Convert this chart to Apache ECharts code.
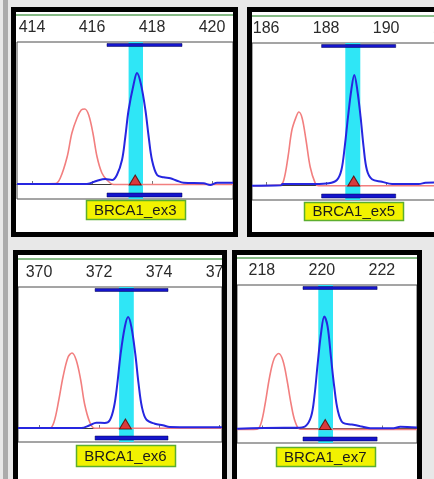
<!DOCTYPE html>
<html><head><meta charset="utf-8">
<script src="https://cdn.jsdelivr.net/npm/echarts@6/dist/echarts.min.js"></script>
<style>html,body{margin:0;padding:0;background:#e8e8e8;overflow:hidden}#c{width:434px;height:479px}</style>
</head><body><div id="c"></div>
<script>
// ---------- DATA ----------
const markerNames = ['BRCA1_ex3', 'BRCA1_ex5', 'BRCA1_ex6', 'BRCA1_ex7'];

const ticks1 = [414, 416, 418, 420];
const ticks2 = [186, 188, 190, 192];
const ticks3 = [370, 372, 374, 376];
const ticks4 = [218, 220, 222];

// called allele (triangle), highlighted band and bin range, in base pairs
const peaks = [417.44, 188.92, 372.88, 220.11];
const bands = [[417.22, 417.70], [188.64, 189.14], [372.67, 373.16], [219.88, 220.37]];
const bins  = [[416.50, 419.00], [187.85, 190.32], [371.87, 374.30], [219.37, 221.84]];

// traces: [size (bp), signal]
const blue1 = [[413.5,0],[415.83,0],[416.17,3.3],[416.44,5],[416.67,4],[416.83,9],[417.0,24],[417.11,47],[417.22,74],[417.39,100],[417.5,111],[417.63,100],[417.78,74],[417.89,47],[418.0,24],[418.17,9],[418.39,6.7],[418.61,5.7],[418.83,3.3],[419.06,1.3],[419.72,0.7],[419.94,-1],[420.17,1.3],[420.7,1.3]];
const red1 = [[413.5,0],[414.78,0.5],[414.94,5.7],[415.17,27],[415.33,51],[415.5,66],[415.64,74],[415.76,75],[415.89,69],[416.03,51],[416.17,27],[416.33,11],[416.5,4],[416.72,-0.5],[420.7,-0.5]];

const blue2 = [[185.53,-0.7],[186.5,-0.3],[186.55,1],[187.64,1],[188.09,1.7],[188.36,5],[188.51,15],[188.62,38],[188.73,68],[188.84,95],[188.94,110],[189.04,95],[189.15,68],[189.25,38],[189.36,15],[189.53,5.7],[189.86,3.3],[190.2,1],[191.09,1],[191.31,2.3],[191.6,2.6],[193.5,2.6]];
const red2 = [[185.53,-0.7],[186.47,0],[186.59,5],[186.73,28],[186.86,55],[187.0,68],[187.09,73],[187.2,67],[187.33,45],[187.47,18],[187.64,1.7],[187.75,-0.7],[193.5,-0.7]];

const blue3 = [[369.3,0],[371.41,0],[371.69,2.7],[371.91,5.3],[372.19,5],[372.36,7.7],[372.5,21],[372.61,44],[372.72,74],[372.86,101],[372.97,111],[373.08,101],[373.21,74],[373.32,44],[373.43,21],[373.58,8.3],[373.86,4.3],[374.13,2.7],[374.36,1],[376.1,0.7]];
const red3 = [[369.3,-0.3],[370.36,0],[370.5,6],[370.66,28],[370.8,51],[370.97,71],[371.1,75],[371.24,68],[371.39,48],[371.52,24],[371.69,6],[371.86,-0.3],[376.1,-0.3]];

const blue4 = [[217.17,-0.3],[218.73,0.7],[219.17,0.7],[219.45,2.3],[219.64,12],[219.75,32],[219.86,65],[219.97,95],[220.08,112],[220.19,102],[220.3,72],[220.41,42],[220.53,18],[220.7,5.7],[221.0,4],[221.28,2.3],[221.61,0.3],[222.39,0.3],[222.61,1.7],[223.17,1]];
const red4 = [[217.17,-1],[217.84,-0.7],[217.97,5],[218.11,25],[218.26,52],[218.41,70],[218.56,75],[218.7,68],[218.84,48],[218.97,25],[219.11,6.7],[219.28,-0.7],[223.17,-1]];

const tickSets = [ticks1, ticks2, ticks3, ticks4];
const blues = [blue1, blue2, blue3, blue4];
const reds = [red1, red2, red3, red4];

// ---------- LAYOUT (pixels) ----------
const frames = [
  {grid:{left:17,top:42,width:216,height:157}, x:[413.5,420.7], y:[-15,142], border:[13.5,9.5,222,225], inner:[16,12,217,220], green:15, box:[200,19]},
  {grid:{left:252,top:43,width:240,height:157}, x:[185.53,193.53], y:[-15,142], border:[249.5,9.5,300,225], inner:[252,12,200,220], green:16, box:[202,18]},
  {grid:{left:18,top:287,width:204,height:155}, x:[369.3,376.1], y:[-14,141], border:[15.5,252.5,209,300], inner:[18,255,204,240], green:259, box:[445,21]},
  {grid:{left:237,top:285,width:180,height:158}, x:[217.17,223.17], y:[-14.5,143.5], border:[234.5,252.5,185,300], inner:[237,255,180,240], green:258, box:[447,19]}
];
const FONT = '"Liberation Sans", Arial, sans-serif';

const chart = echarts.init(document.getElementById('c'), null, {renderer:'canvas'});

const grids = [], xAxes = [], yAxes = [], series = [];
frames.forEach((f, i) => {
  grids.push(Object.assign({show:true, borderColor:'#4a4a4a', borderWidth:1, backgroundColor:'transparent', outerBoundsMode:'none', containLabel:false}, f.grid));
  xAxes.push({
    type:'value', gridIndex:i, position:'top', min:f.x[0], max:f.x[1],
    axisLine:{show:true, lineStyle:{color:'#3a3a3a', width:1}},
    axisTick:{show:true, inside:false, length:3, customValues:tickSets[i], lineStyle:{color:'#777'}},
    axisLabel:{show:true, customValues:tickSets[i], margin:6, color:'#2b2b2b', fontSize:16, fontFamily:FONT},
    splitLine:{show:false}
  });
  yAxes.push({type:'value', gridIndex:i, min:f.y[0], max:f.y[1], show:false, splitLine:{show:false}});
  const ax = {xAxisIndex:i, yAxisIndex:i};
  series.push(Object.assign({type:'line', data:[], z:1, silent:true,
    markArea:{silent:true, itemStyle:{color:'#2fe6f6'}, data:[[{xAxis:bands[i][0]},{xAxis:bands[i][1]}]]}}, ax));
  series.push(Object.assign({type:'line', data:reds[i], z:4, silent:true, showSymbol:false, smooth:0.35,
    lineStyle:{color:'#f27f7f', width:1.6}, itemStyle:{color:'#f27f7f'}}, ax));
  series.push(Object.assign({type:'line', data:blues[i], z:5, silent:true, showSymbol:false, smooth:0.35,
    lineStyle:{color:'#2626e0', width:2}, itemStyle:{color:'#2626e0'}}, ax));
  series.push(Object.assign({type:'line', data:[], z:6, silent:true,
    markArea:{silent:true, itemStyle:{color:'#1414cc', borderColor:'#000050', borderWidth:0.5}, data:[
      [{xAxis:bins[i][0], yAxis:f.y[1]-1.5},{xAxis:bins[i][1], yAxis:f.y[1]-4.5}],
      [{xAxis:bins[i][0], yAxis:f.y[0]+2},{xAxis:bins[i][1], yAxis:f.y[0]+6}]
    ]}}, ax));
  series.push(Object.assign({type:'scatter', data:[[peaks[i],0]], z:7, silent:true, symbol:'triangle', symbolSize:[12,10], symbolOffset:[0,-4],
    itemStyle:{color:'#ff1010', borderColor:'#500000', borderWidth:1}}, ax));
});

chart.setOption({
  backgroundColor:'#e8e8e8',
  animation:false,
  grid:grids, xAxis:xAxes, yAxis:yAxes, series:series
});

// frames, header lines and marker name boxes
const g = [];
g.push({type:'rect', z:-20, shape:{x:3, y:0, width:5, height:479}, style:{fill:'#ababab'}});
frames.forEach((f, i) => {
  g.push({type:'rect', z:-10, shape:{x:f.inner[0], y:f.inner[1], width:f.inner[2], height:f.inner[3]}, style:{fill:'#ffffff'}});
  g.push({type:'line', z:-5, shape:{x1:f.inner[0], y1:f.green, x2:f.inner[0]+f.inner[2], y2:f.green}, style:{stroke:'#5da35d', lineWidth:1.5}});
  const cx = chart.convertToPixel({xAxisIndex:i}, peaks[i]);
  g.push({type:'rect', z:50, shape:{x:Math.round(cx-49.5)+0.5, y:f.box[0]+0.5, width:99, height:f.box[1]},
    style:{fill:'#f2f200', stroke:'#5cae2e', lineWidth:1.5}});
  g.push({type:'text', z:51, x:cx, y:f.box[0]+f.box[1]/2+1,
    style:{text:markerNames[i], fill:'#1a1a1a', font:'15px ' + FONT, align:'center', verticalAlign:'middle'}});
  g.push({type:'rect', z:100, shape:{x:f.border[0], y:f.border[1], width:f.border[2], height:f.border[3]},
    style:{fill:'none', stroke:'#000', lineWidth:5}});
});
// gap between the two lower panels (hides the overflowing tick label)
g.push({type:'rect', z:99, shape:{x:227, y:255, width:5, height:40}, style:{fill:'#e8e8e8'}});
chart.setOption({graphic:{elements:g}});
</script>
</body></html>
